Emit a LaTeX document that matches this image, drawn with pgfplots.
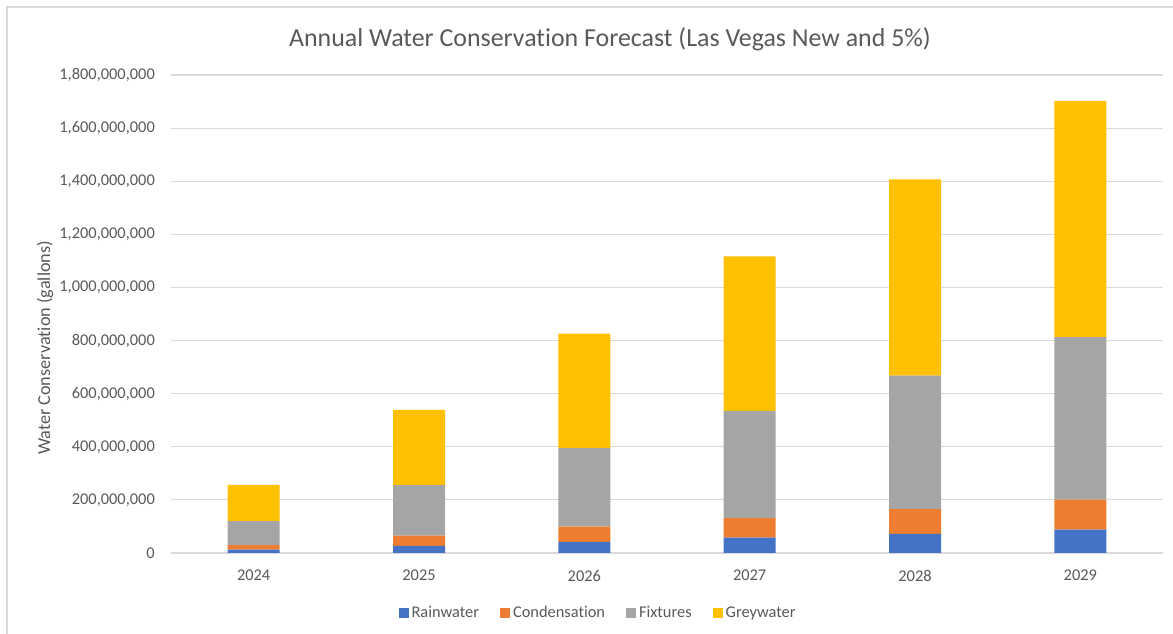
\documentclass[border=0pt]{standalone}
\usepackage{fontspec}
\setmainfont{Carlito}[Ligatures=CommonOff]
\usepackage{pgfplots}
\usepackage{pgfplotstable}
\pgfplotsset{compat=1.18}

\definecolor{cRain}{HTML}{4472C4}
\definecolor{cCond}{HTML}{ED7D31}
\definecolor{cFix}{HTML}{A5A5A5}
\definecolor{cGrey}{HTML}{FFC000}
\definecolor{txt}{HTML}{595959}
\definecolor{gridc}{HTML}{D9D9D9}

% annual savings in gallons per source
\pgfplotstableread{
idx year rain     cond      fix       grey
0   2024 13000000 17000000  90000000  137000000
1   2025 27000000 38000000  191000000 283000000
2   2026 42000000 57000000  297000000 430000000
3   2027 58000000 73000000  404000000 582000000
4   2028 72000000 93000000  503000000 739000000
5   2029 88000000 113000000 612000000 890000000
}\datatable

\begin{document}
\begin{tikzpicture}
\useasboundingbox (0,0) rectangle (1173bp,634bp);
\draw[gridc, line width=1.5bp] (7bp,0) -- (7bp,627bp) -- (1173bp,627bp);
\begin{axis}[
  at={(171bp,81bp)}, anchor=south west,
  scale only axis, width=992bp, height=478bp,
  ybar stacked, bar width=52bp,
  xmin=-0.5, xmax=5.5,
  ymin=0, ymax=1800000000,
  xtick=data, xticklabels={2024,2025,2026,2027,2028,2029},
  ytick={0,200000000,400000000,600000000,800000000,1000000000,1200000000,1400000000,1600000000,1800000000},
  scaled y ticks=false,
  /pgf/number format/fixed,
  /pgf/number format/precision=0,
  /pgf/number format/1000 sep={,},
  /pgf/number format/assume math mode=true,
  axis line style={draw=none},
  major tick length=0pt,
  ymajorgrids, grid style={gridc, line width=1.2bp},
  ticklabel style={text=txt, font=\fontsize{16.4bp}{19bp}\selectfont},
  yticklabel style={anchor=east, inner sep=0pt, xshift=-16bp},
  xticklabel style={anchor=north, inner sep=0pt, yshift=-17bp},
  ylabel={Water Conservation (gallons)},
  ylabel style={at={(axis description cs:-0.127,0.429)}, anchor=center, text=txt, font=\fontsize{18.2bp}{21bp}\selectfont},
  title={Annual Water Conservation Forecast (Las Vegas New and 5\%)},
  title style={at={(axis description cs:0.4425,1.062)}, anchor=center, yshift=0pt, text=txt, font=\fontsize{25.9bp}{30bp}\selectfont},
  legend columns=4,
  legend style={at={(axis description cs:0.431,-0.125)}, anchor=center, draw=none, fill=none,
    font=\fontsize{16.4bp}{19bp}\selectfont, text=txt,
    /tikz/every even column/.append style={column sep=18bp},
    nodes={inner xsep=3bp, inner ysep=0pt}},
  legend image code/.code={\fill[#1, draw=none] (0bp,-5bp) rectangle (10bp,5bp);},
]
\addplot[fill=cRain, draw=none] table[x=idx, y=rain] {\datatable};
\addplot[fill=cCond, draw=none] table[x=idx, y=cond] {\datatable};
\addplot[fill=cFix, draw=none] table[x=idx, y=fix] {\datatable};
\addplot[fill=cGrey, draw=none] table[x=idx, y=grey] {\datatable};
\legend{Rainwater, Condensation, Fixtures, Greywater}
\end{axis}
\end{tikzpicture}
\end{document}
